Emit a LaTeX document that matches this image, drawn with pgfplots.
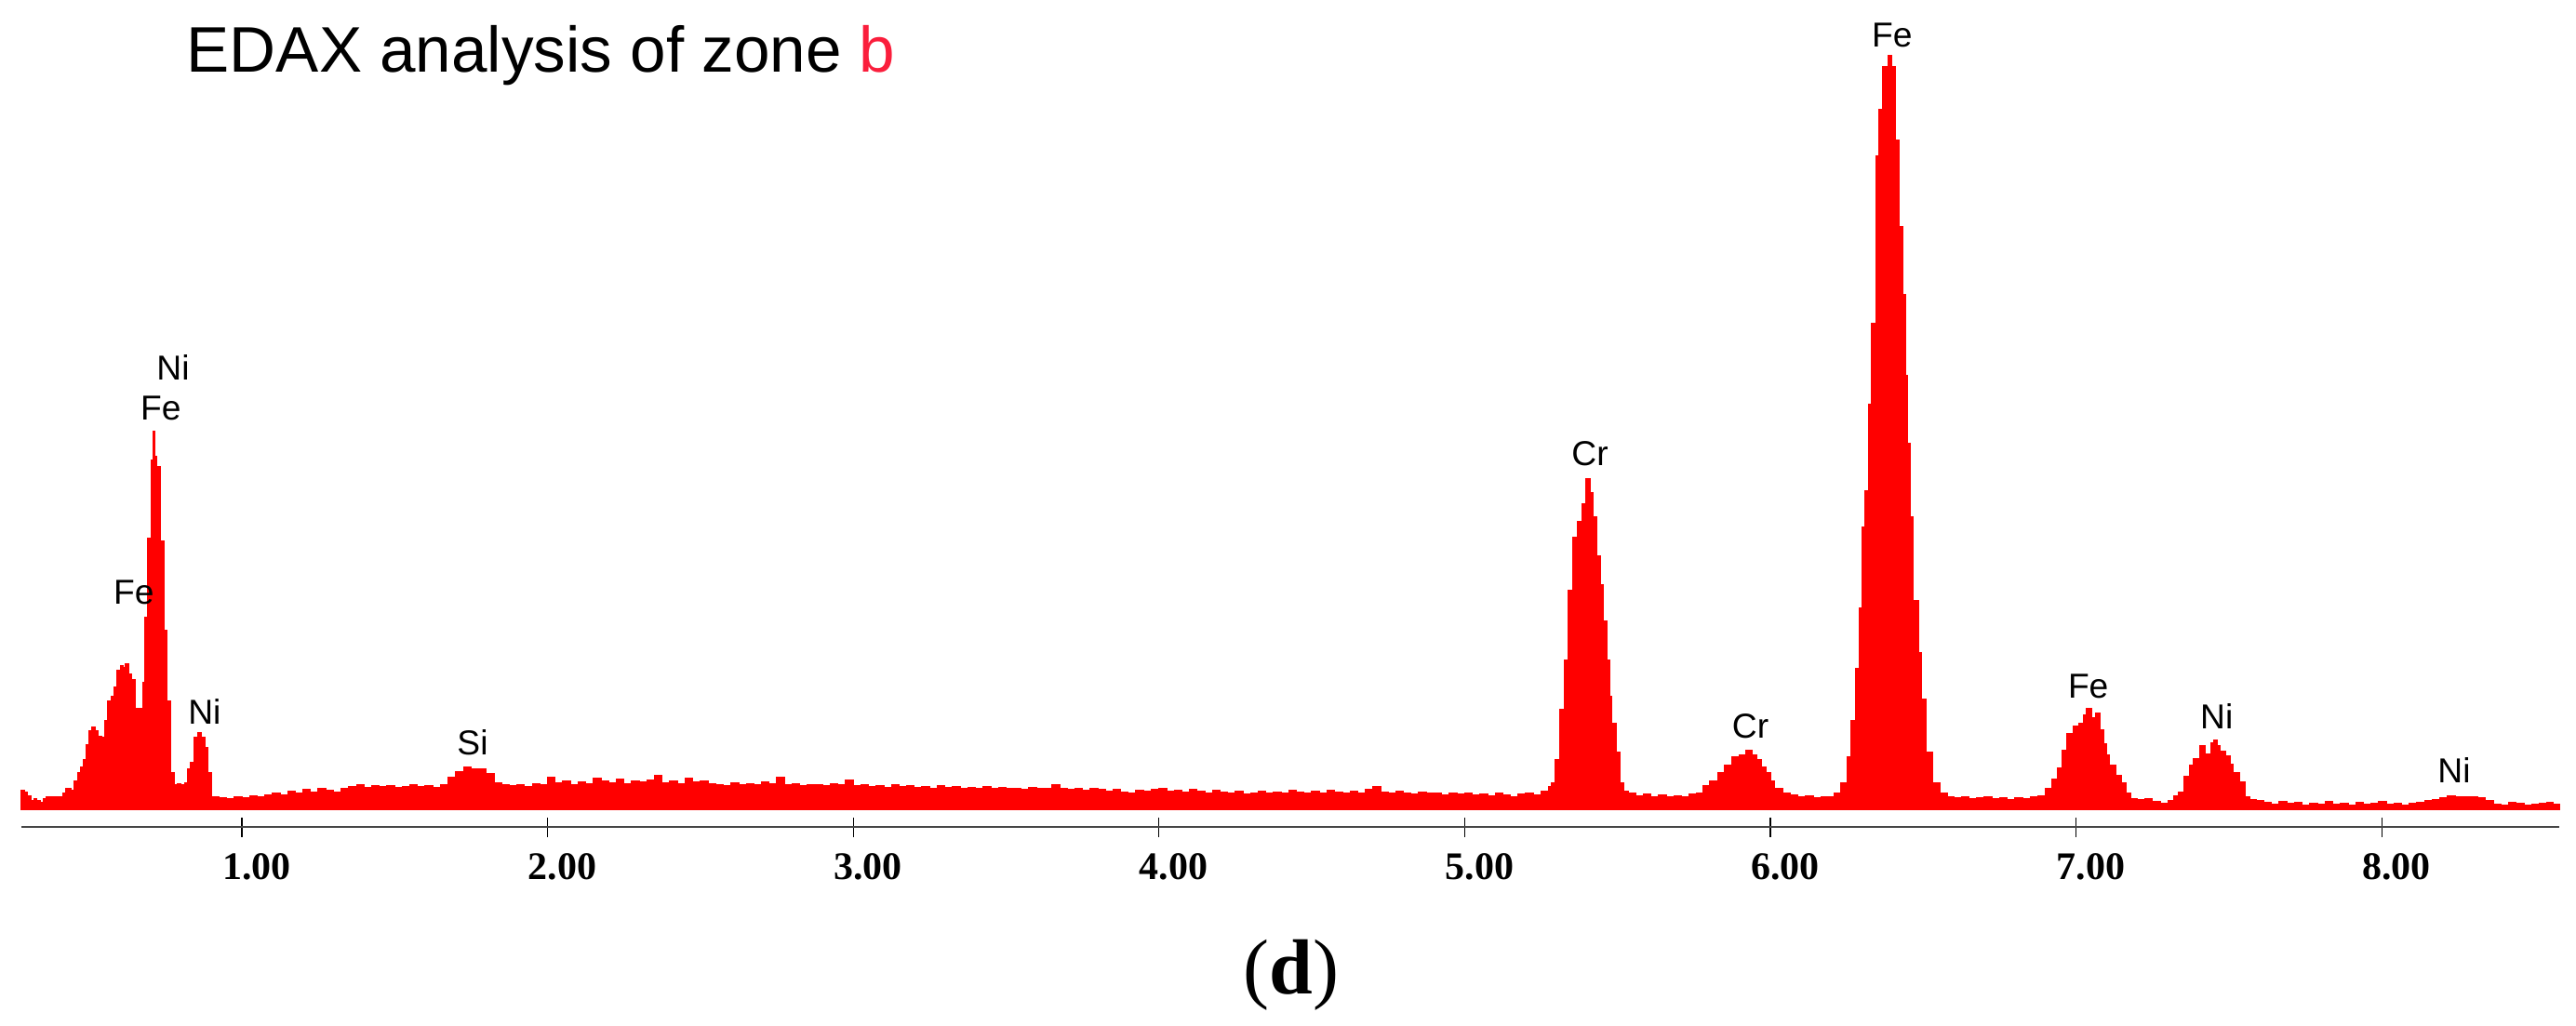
\documentclass[border=0pt]{standalone}
\usepackage{pgfplots}
\pgfplotsset{compat=1.18}
\usepackage{fontspec}
\setmainfont{Liberation Serif}
\newfontfamily\arial{Liberation Sans}
\definecolor{zonered}{RGB}{250,30,60}
\definecolor{axisgray}{RGB}{70,70,70}
\tikzset{el/.style={anchor=base, inner sep=0pt, font=\arial\fontsize{9.3}{10}\selectfont}}

\pgfplotstableread{
x y
0.279 0
0.279 25
0.290 23
0.300 18
0.310 12
0.320 14
0.330 11
0.340 9
0.350 14
0.360 16
0.380 17
0.400 16
0.415 21
0.425 27
0.440 25
0.452 38
0.462 48
0.472 56
0.482 66
0.492 86
0.500 104
0.510 109
0.520 104
0.530 97
0.542 95
0.552 118
0.562 144
0.572 150
0.582 162
0.592 184
0.602 190
0.612 188
0.620 193
0.630 180
0.640 172
0.650 134
0.660 134
0.672 132
0.676 168
0.682 255
0.692 360
0.704 463
0.710 502
0.716 468
0.722 455
0.733 356
0.745 237
0.756 144
0.766 49
0.778 33
0.790 34
0.800 32
0.814 35
0.824 53
0.832 62
0.844 95
0.855 102
0.867 95
0.879 82
0.890 49
0.902 16
0.913 16
0.925 15
0.950 14
0.975 16
1.000 15
1.025 18
1.050 16
1.075 19
1.100 21
1.125 19
1.150 24
1.175 22
1.200 26
1.225 23
1.250 27
1.275 25
1.300 23
1.325 28
1.350 30
1.375 32
1.400 29
1.425 31
1.450 30
1.475 31
1.500 29
1.525 30
1.550 32
1.575 30
1.600 31
1.625 29
1.650 33
1.675 42
1.700 50
1.725 56
1.750 53
1.775 54
1.800 47
1.825 35
1.850 32
1.875 31
1.900 33
1.925 30
1.950 34
1.975 32
2.000 42
2.025 35
2.050 38
2.075 33
2.100 36
2.125 34
2.150 41
2.175 37
2.200 35
2.225 40
2.250 34
2.275 37
2.300 36
2.325 39
2.350 45
2.375 35
2.400 37
2.425 34
2.450 41
2.475 36
2.500 38
2.525 34
2.550 33
2.575 31
2.600 35
2.625 33
2.650 34
2.675 32
2.700 36
2.725 34
2.750 42
2.775 33
2.800 34
2.825 31
2.850 33
2.875 32
2.900 31
2.925 34
2.950 32
2.975 39
3.000 31
3.025 32
3.050 30
3.075 31
3.100 29
3.125 32
3.150 30
3.175 31
3.200 29
3.225 30
3.250 28
3.275 31
3.300 29
3.325 30
3.350 28
3.375 29
3.400 27
3.425 30
3.450 28
3.475 29
3.500 27
3.525 28
3.550 26
3.575 29
3.600 27
3.625 28
3.650 33
3.675 27
3.700 26
3.725 28
3.750 25
3.775 27
3.800 26
3.825 24
3.850 26
3.875 23
3.900 22
3.925 25
3.950 24
3.975 26
4.000 27
4.025 24
4.050 25
4.075 23
4.100 26
4.125 24
4.150 22
4.175 25
4.200 23
4.225 21
4.250 24
4.275 20
4.300 22
4.325 24
4.350 21
4.375 23
4.400 22
4.425 25
4.450 23
4.475 21
4.500 24
4.525 22
4.550 25
4.575 23
4.600 21
4.625 24
4.650 22
4.675 26
4.700 30
4.725 23
4.750 21
4.775 24
4.800 22
4.825 20
4.850 23
4.875 21
4.900 22
4.925 19
4.950 21
4.975 20
5.000 22
5.025 19
5.050 20
5.075 18
5.100 21
5.125 19
5.150 17
5.175 20
5.200 22
5.225 19
5.250 24
5.275 30
5.285 35
5.295 66
5.310 132
5.325 198
5.340 291
5.355 361
5.370 382
5.385 405
5.395 439
5.410 420
5.420 388
5.433 336
5.445 298
5.455 250
5.465 198
5.475 150
5.482 114
5.495 76
5.508 35
5.522 24
5.535 21
5.560 18
5.585 20
5.610 17
5.635 19
5.660 16
5.685 18
5.710 17
5.735 20
5.760 22
5.780 31
5.800 37
5.830 49
5.850 58
5.875 69
5.900 72
5.920 78
5.940 72
5.955 66
5.970 56
5.985 49
6.000 38
6.015 28
6.040 22
6.065 19
6.090 16
6.115 18
6.140 15
6.165 17
6.190 16
6.210 22
6.230 35
6.250 69
6.265 118
6.278 187
6.290 267
6.300 374
6.310 423
6.322 537
6.332 645
6.345 867
6.355 929
6.368 985
6.385 1000
6.398 985
6.408 888
6.420 773
6.432 683
6.443 576
6.450 485
6.458 388
6.468 277
6.485 208
6.495 146
6.510 76
6.530 35
6.555 22
6.580 16
6.600 15
6.625 16
6.650 14
6.675 15
6.700 16
6.725 14
6.750 15
6.775 13
6.800 15
6.825 14
6.850 16
6.875 18
6.900 28
6.920 40
6.940 55
6.955 78
6.970 100
6.990 110
7.010 114
7.025 125
7.035 134
7.050 122
7.065 128
7.080 105
7.090 87
7.100 72
7.110 59
7.130 45
7.150 35
7.165 22
7.180 14
7.200 13
7.225 14
7.250 10
7.275 8
7.300 12
7.320 18
7.335 23
7.353 44
7.370 58
7.385 67
7.405 84
7.424 73
7.440 88
7.450 92
7.462 85
7.472 77
7.490 71
7.505 60
7.515 48
7.535 36
7.554 17
7.570 13
7.590 11
7.615 9
7.640 7
7.665 10
7.690 8
7.715 9
7.740 6
7.765 8
7.790 7
7.815 10
7.840 7
7.865 8
7.890 6
7.915 9
7.940 7
7.965 8
7.990 10
8.015 7
8.040 8
8.065 6
8.090 8
8.115 9
8.140 11
8.165 13
8.190 15
8.215 18
8.240 17
8.265 16
8.290 17
8.315 15
8.340 11
8.365 7
8.390 5
8.415 9
8.440 8
8.465 6
8.490 7
8.515 8
8.540 9
8.560 7
8.581 7
8.581 0
}\spectrum

\begin{document}
\begin{tikzpicture}
\begin{axis}[
    at={(0,0)}, anchor=south west,
    scale only axis,
    width=682pt, height=222.25pt,
    xmin=0.279, xmax=8.581,
    ymin=-23.5, ymax=1074,
    clip=false,
    axis x line=bottom,
    axis y line=none,
    x axis line style={-, line width=0.7pt, color=axisgray},
    xtick={1,2,3,4,5,6,7,8},
    xticklabels={1.00,2.00,3.00,4.00,5.00,6.00,7.00,8.00},
    tick align=center,
    major tick length=5.25pt,
    xtick style={black, line width=0.3pt},
    xticklabel style={anchor=north, inner sep=0pt, yshift=-4.25pt, xshift=4pt,
        font=\bfseries\fontsize{10.5}{12}\selectfont},
]
\addplot[const plot, fill=red, draw=red, line width=0.3pt] table {\spectrum} \closedcycle;

\node[el] at (axis cs:0.775,570) {Ni};
\node[el] at (axis cs:0.735,517) {Fe};
\node[el] at (axis cs:0.647,272) {Fe};
\node[el] at (axis cs:0.878,113) {Ni};
\node[el] at (axis cs:1.755,72) {Si};
\node[el] at (axis cs:5.41,456) {Cr};
\node[el] at (axis cs:5.935,94) {Cr};
\node[el] at (axis cs:6.398,1012) {Fe};
\node[el] at (axis cs:7.04,148) {Fe};
\node[el] at (axis cs:7.46,107) {Ni};
\node[el] at (axis cs:8.237,35) {Ni};
\end{axis}

\node[anchor=base west, inner sep=0pt, font=\arial\fontsize{17.3}{20}\selectfont]
    at (44.25pt,202.75pt) {EDAX analysis of zone \textcolor{zonered}{b}};
\node[anchor=base, inner sep=0pt, font=\fontsize{21}{24}\selectfont]
    at (341.25pt,-44.75pt) {(\textbf{d})};

\pgfresetboundingbox
\path (-5.75pt,-53.25pt) rectangle (686.5pt,222.25pt);
\end{tikzpicture}
\end{document}
